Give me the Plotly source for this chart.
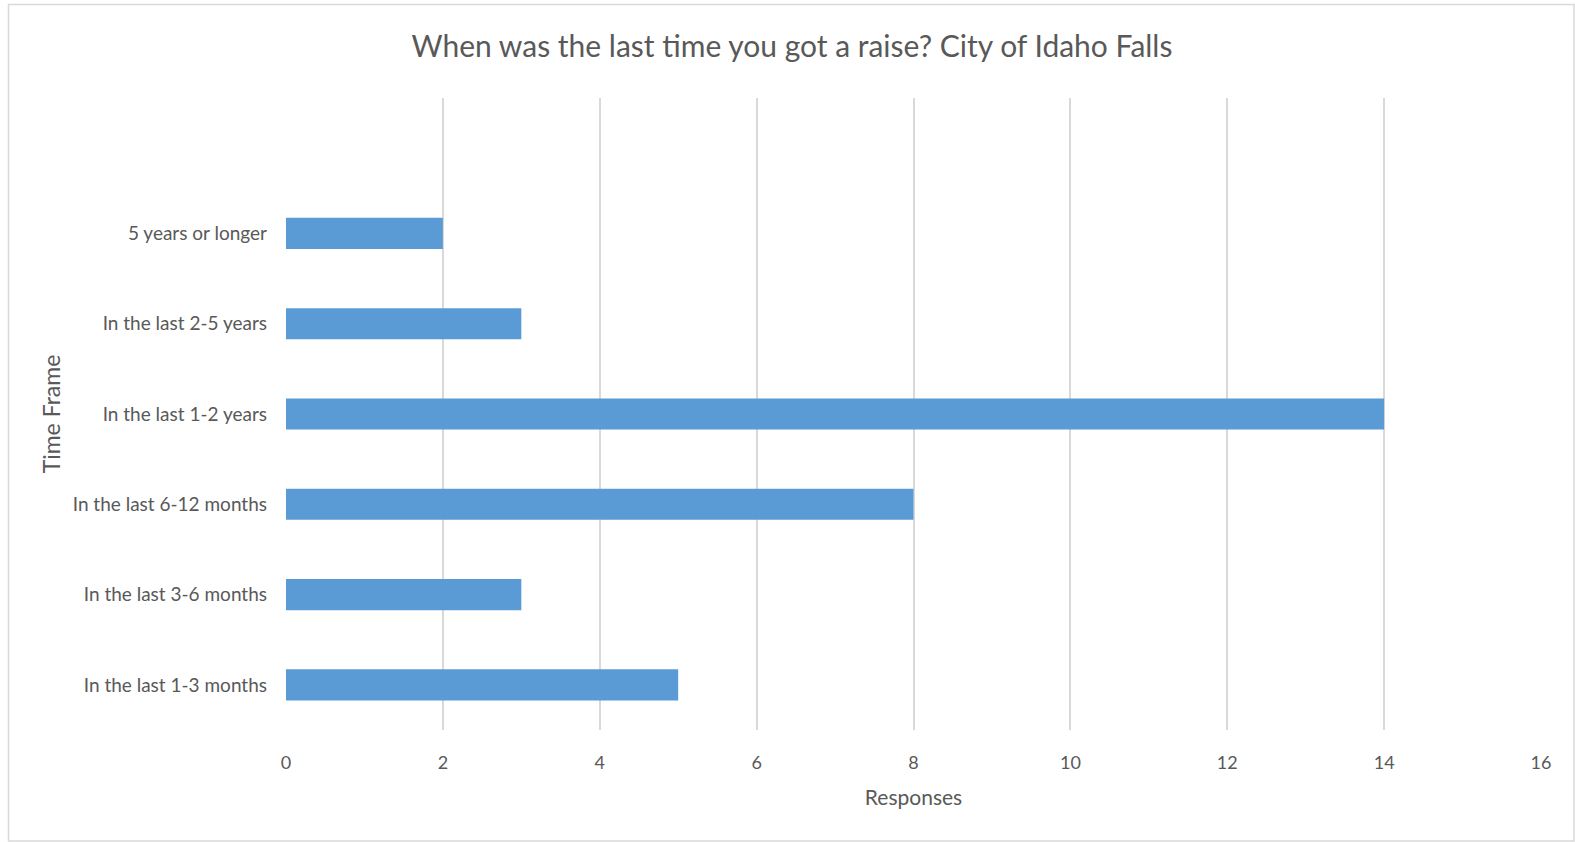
import plotly.graph_objects as go

categories = ["In the last 1-3 months", "In the last 3-6 months", "In the last 6-12 months",
              "In the last 1-2 years", "In the last 2-5 years", "5 years or longer"]
responses = [5, 3, 8, 14, 3, 2]
x_ticks = [0, 2, 4, 6, 8, 10, 12, 14, 16]

W, H = 1575, 842
L, R, T, B = 286, 34, 98, 112
FONT = "Lato"
GRAY = "#595959"

fig = go.Figure(go.Bar(
    x=responses, y=categories, orientation="h",
    marker=dict(color="#5b9bd5", line=dict(width=0)),
    width=0.345,
))

pw = W - L - R
ph = H - T - B
def px_x(p):
    return (p - L) / pw
def px_y(p):
    return (H - B - p) / ph

fig.update_layout(
    width=W, height=H,
    margin=dict(l=L, r=R, t=T, b=B),
    paper_bgcolor="white", plot_bgcolor="white",
    showlegend=False,
    title=dict(text="When was the last time you got a raise? City of Idaho Falls",
               x=792 / W, xref="container", xanchor="center", y=1 - 46 / H, yanchor="middle",
               font=dict(family=FONT, size=30, color=GRAY)),
    xaxis=dict(range=[0, 16], tickvals=x_ticks, showgrid=True, gridcolor="#d9d9d9", gridwidth=1.5,
               zeroline=False, showline=False, ticks="",
               tickfont=dict(family=FONT, size=18, color=GRAY), ticklabelstandoff=20,
               title=dict(text="Responses", font=dict(family=FONT, size=21, color=GRAY), standoff=18)),
    yaxis=dict(type="category", categoryorder="array", categoryarray=categories,
               range=[-0.5, 6.5], showgrid=False, zeroline=False, showline=False, ticks="",
               tickfont=dict(family=FONT, size=19, color=GRAY), ticklabelstandoff=18,
               title=dict(text="Time Frame", font=dict(family=FONT, size=23, color=GRAY), standoff=5)),
    shapes=[dict(type="rect", xref="paper", yref="paper",
                 x0=px_x(8.5), x1=px_x(1574), y0=px_y(841), y1=px_y(4.5),
                 line=dict(color="#d9d9d9", width=1.5), fillcolor="rgba(0,0,0,0)", layer="below")],
)

fig.write_html("out.html", config={"displayModeBar": False},
               post_script="document.body.style.margin='0';document.body.style.overflow='hidden';")
